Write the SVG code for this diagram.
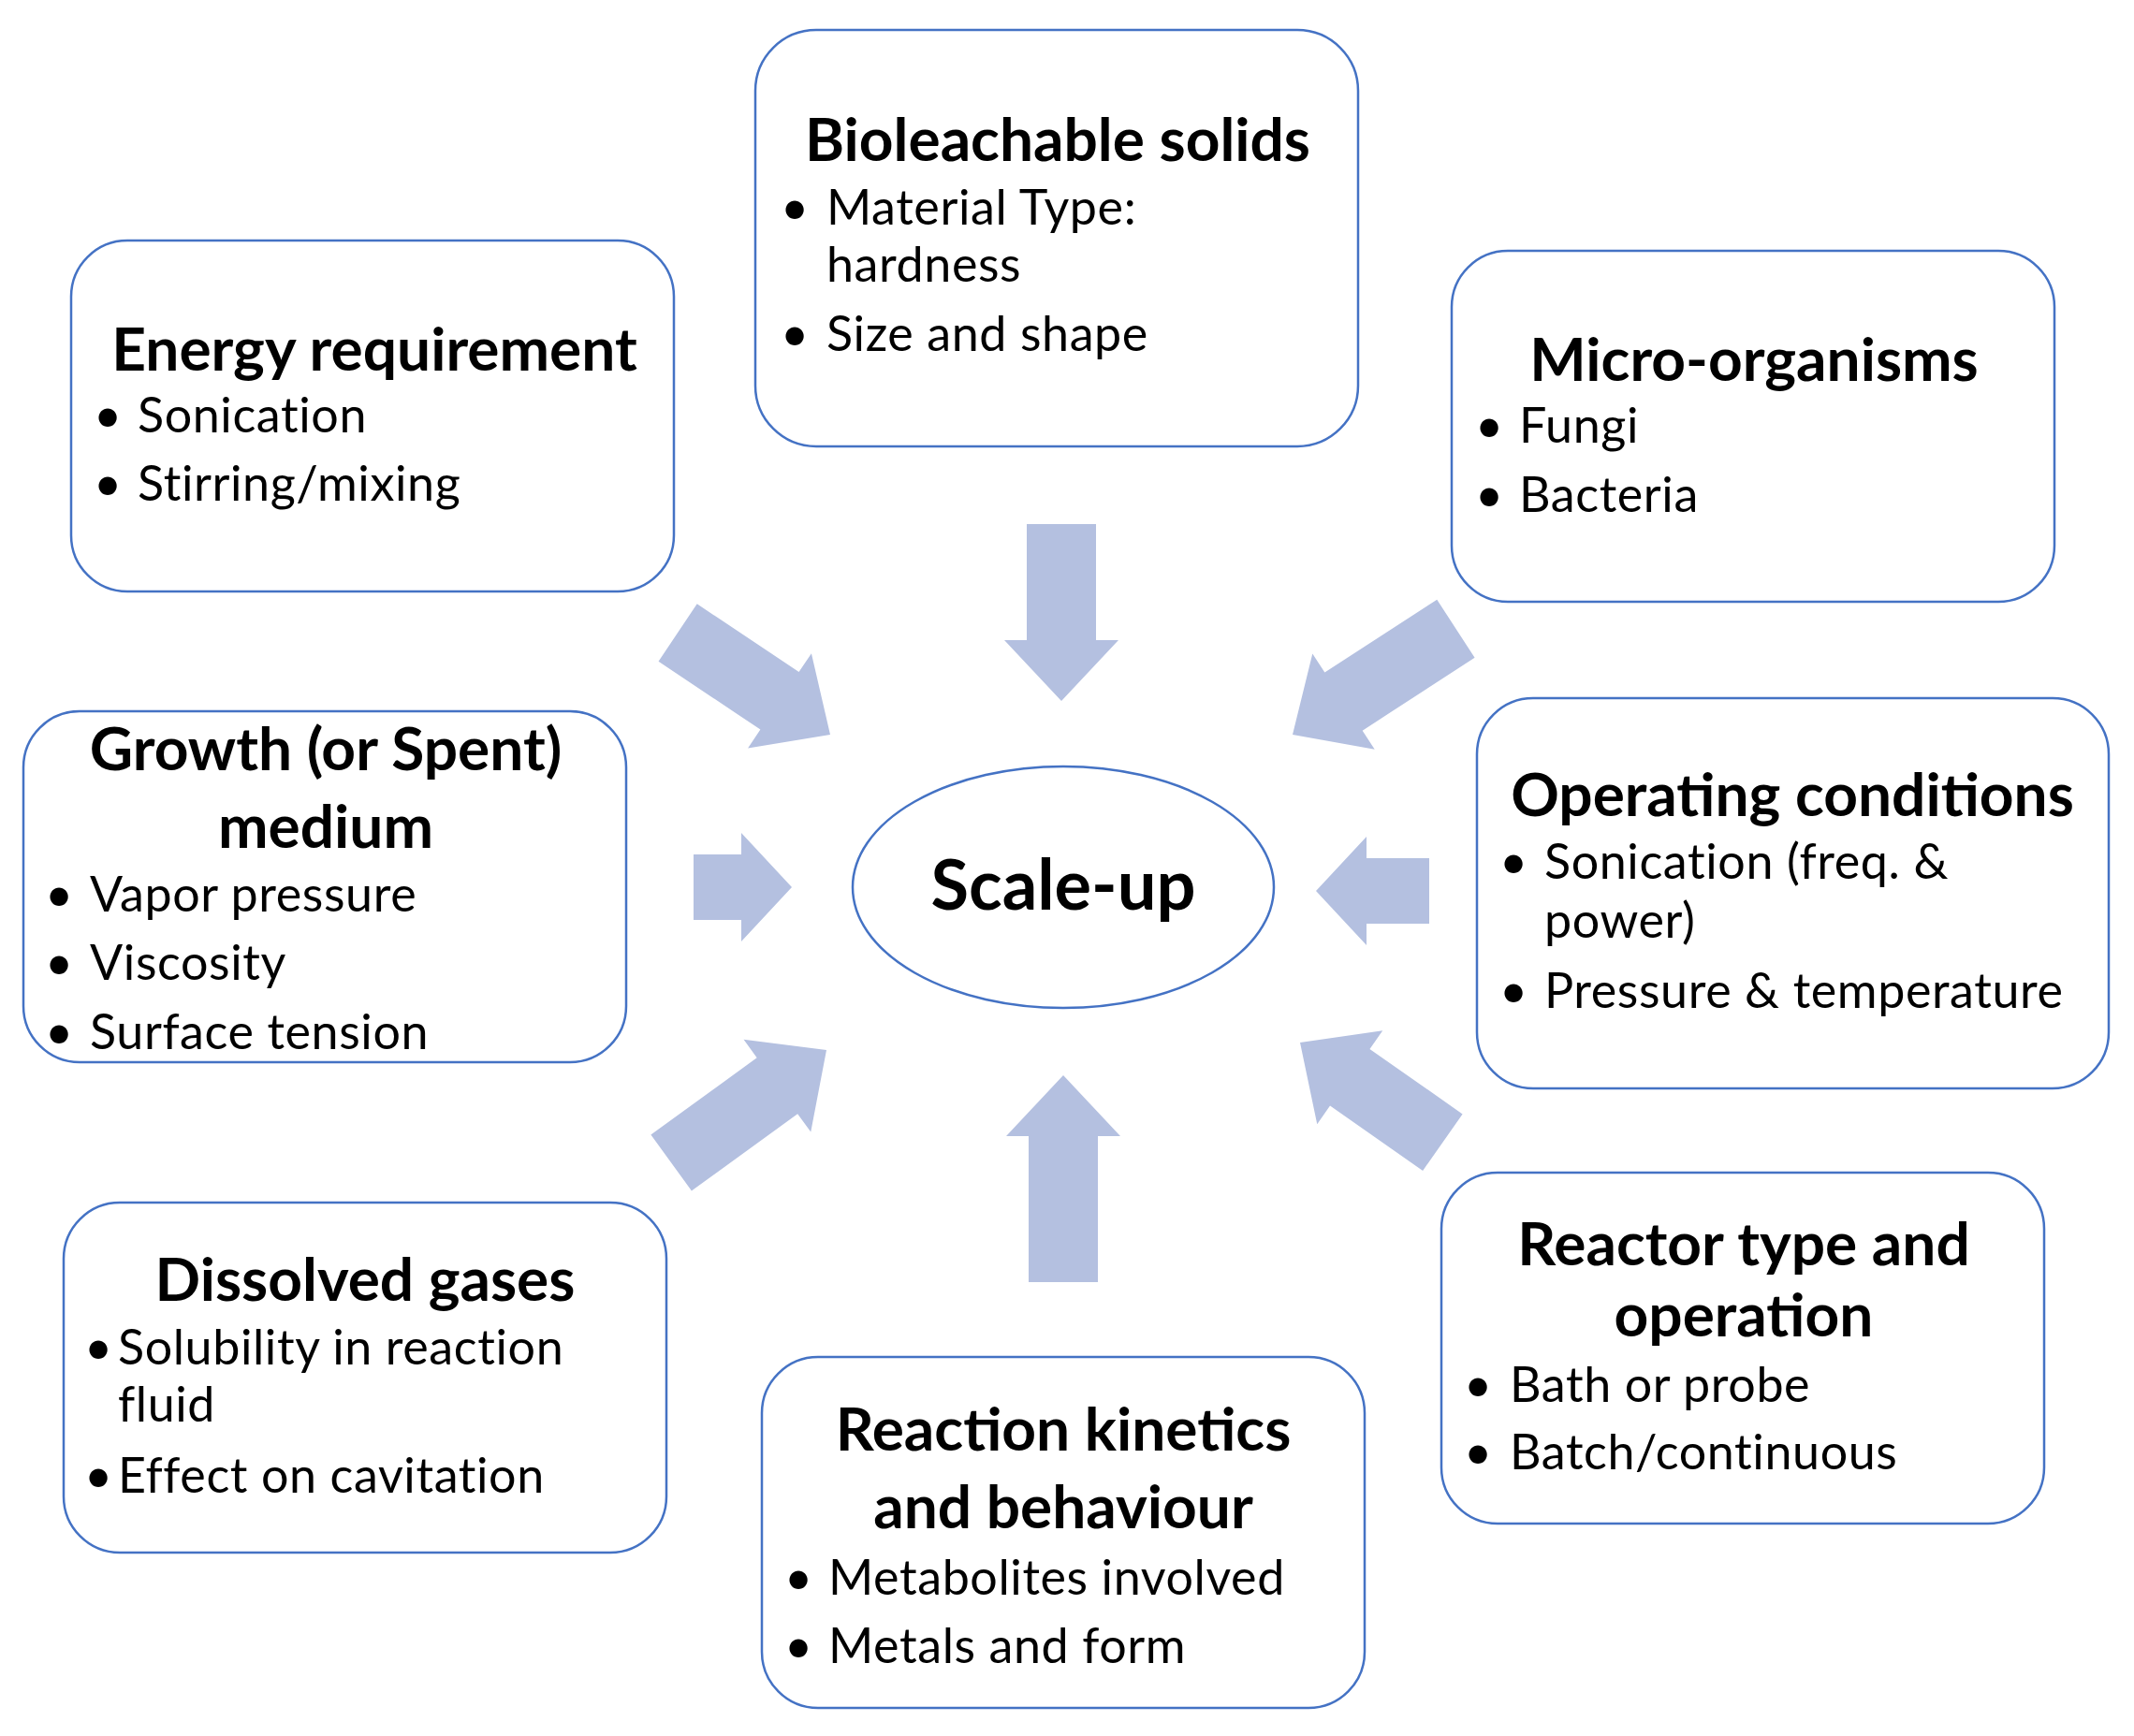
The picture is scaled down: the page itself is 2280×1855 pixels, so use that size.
<svg xmlns="http://www.w3.org/2000/svg" width="2280" height="1855" viewBox="0 0 2280 1855">
<style>
.box{fill:#fff;stroke:#4472c4;stroke-width:2.5}
.t{font-family:Lato,"Open Sans",sans-serif;font-weight:bold;font-size:64px;fill:#000;text-anchor:middle}
.b{font-family:Lato,"Open Sans",sans-serif;font-size:52px;letter-spacing:0.6px;fill:#000}
.arr{fill:#b4c0e0}
</style>
<rect width="2280" height="1855" fill="#fff"/>
<g id="connectors">
<path class="arr" transform="translate(1134,749) rotate(90)" d="M-189,-37 H-65 V-61 L0,0 L-65,61 V37 H-189 Z"/>
<path class="arr" transform="translate(1136,1149) rotate(-90)" d="M-221,-37 H-65 V-61 L0,0 L-65,61 V37 H-221 Z"/>
<path class="arr" transform="translate(846,948)" d="M-105,-35 H-54 V-58 L0,0 L-54,58 V35 H-105 Z"/>
<path class="arr" transform="translate(1406,952) rotate(180)" d="M-121,-35 H-54 V-58 L0,0 L-54,58 V35 H-121 Z"/>
<path class="arr" transform="translate(887,785) rotate(33.8)" d="M-196,-37 H-65 V-61 L0,0 L-65,61 V37 H-196 Z"/>
<path class="arr" transform="translate(1381,785) rotate(147)" d="M-208,-37 H-65 V-61 L0,0 L-65,61 V37 H-208 Z"/>
<path class="arr" transform="translate(883,1122) rotate(-36)" d="M-205,-37 H-65 V-61 L0,0 L-65,61 V37 H-205 Z"/>
<path class="arr" transform="translate(1389,1114) rotate(215)" d="M-186,-37 H-65 V-61 L0,0 L-65,61 V37 H-186 Z"/>
</g>
<g id="energy">
<rect class="box" x="76" y="257" width="644" height="375" rx="60"/>
<text class="t" x="400" y="396">Energy requirement</text>
<text class="b" x="100" y="462">•</text><text class="b" x="147" y="462">Sonication</text>
<text class="b" x="100" y="535">•</text><text class="b" x="147" y="535">Stirring/mixing</text>
</g>
<g id="bioleachable">
<rect class="box" x="807" y="32" width="644" height="445" rx="65"/>
<text class="t" x="1130" y="172">Bioleachable solids</text>
<text class="b" x="834" y="240">•</text><text class="b" x="883" y="240">Material Type:</text>
<text class="b" x="883" y="301">hardness</text>
<text class="b" x="834" y="375">•</text><text class="b" x="883" y="375">Size and shape</text>
</g>
<g id="micro">
<rect class="box" x="1551" y="268" width="644" height="375" rx="60"/>
<text class="t" x="1874" y="407">Micro-organisms</text>
<text class="b" x="1576" y="473">•</text><text class="b" x="1623" y="473">Fungi</text>
<text class="b" x="1576" y="547">•</text><text class="b" x="1623" y="547">Bacteria</text>
</g>
<g id="growth">
<rect class="box" x="25" y="760" width="644" height="375" rx="60"/>
<text class="t" x="348" y="823">Growth (or Spent)</text>
<text class="t" x="348" y="906">medium</text>
<text class="b" x="48" y="974">•</text><text class="b" x="96" y="974">Vapor pressure</text>
<text class="b" x="48" y="1047">•</text><text class="b" x="96" y="1047">Viscosity</text>
<text class="b" x="48" y="1121">•</text><text class="b" x="96" y="1121">Surface tension</text>
</g>
<g id="operating">
<rect class="box" x="1578" y="746" width="675" height="417" rx="60"/>
<text class="t" x="1915" y="872">Operating conditions</text>
<text class="b" x="1602" y="939">•</text><text class="b" x="1650" y="939">Sonication (freq. &amp;</text>
<text class="b" x="1650" y="1002">power)</text>
<text class="b" x="1602" y="1077">•</text><text class="b" x="1650" y="1077">Pressure &amp; temperature</text>
</g>
<g id="dissolved">
<rect class="box" x="68" y="1285" width="644" height="374" rx="60"/>
<text class="t" x="390" y="1390">Dissolved gases</text>
<text class="b" x="90" y="1458">•</text><text class="b" x="126" y="1458">Solubility in reaction</text>
<text class="b" x="126" y="1519">fluid</text>
<text class="b" x="90" y="1595">•</text><text class="b" x="126" y="1595">Effect on cavitation</text>
</g>
<g id="reactor">
<rect class="box" x="1540" y="1253" width="644" height="375" rx="60"/>
<text class="t" x="1863" y="1352">Reactor type and</text>
<text class="t" x="1863" y="1428">operation</text>
<text class="b" x="1564" y="1498">•</text><text class="b" x="1613" y="1498">Bath or probe</text>
<text class="b" x="1564" y="1570">•</text><text class="b" x="1613" y="1570">Batch/continuous</text>
</g>
<g id="reaction">
<rect class="box" x="814" y="1450" width="644" height="375" rx="60"/>
<text class="t" x="1136" y="1550">Reaction kinetics</text>
<text class="t" x="1136" y="1633">and behaviour</text>
<text class="b" x="838" y="1704">•</text><text class="b" x="885" y="1704">Metabolites involved</text>
<text class="b" x="838" y="1777">•</text><text class="b" x="885" y="1777">Metals and form</text>
</g>
<g id="scaleup">
<ellipse class="box" cx="1136" cy="948" rx="225" ry="129"/>
<text class="t" x="1136" y="972" style="font-size:74px">Scale-up</text>
</g>
</svg>
